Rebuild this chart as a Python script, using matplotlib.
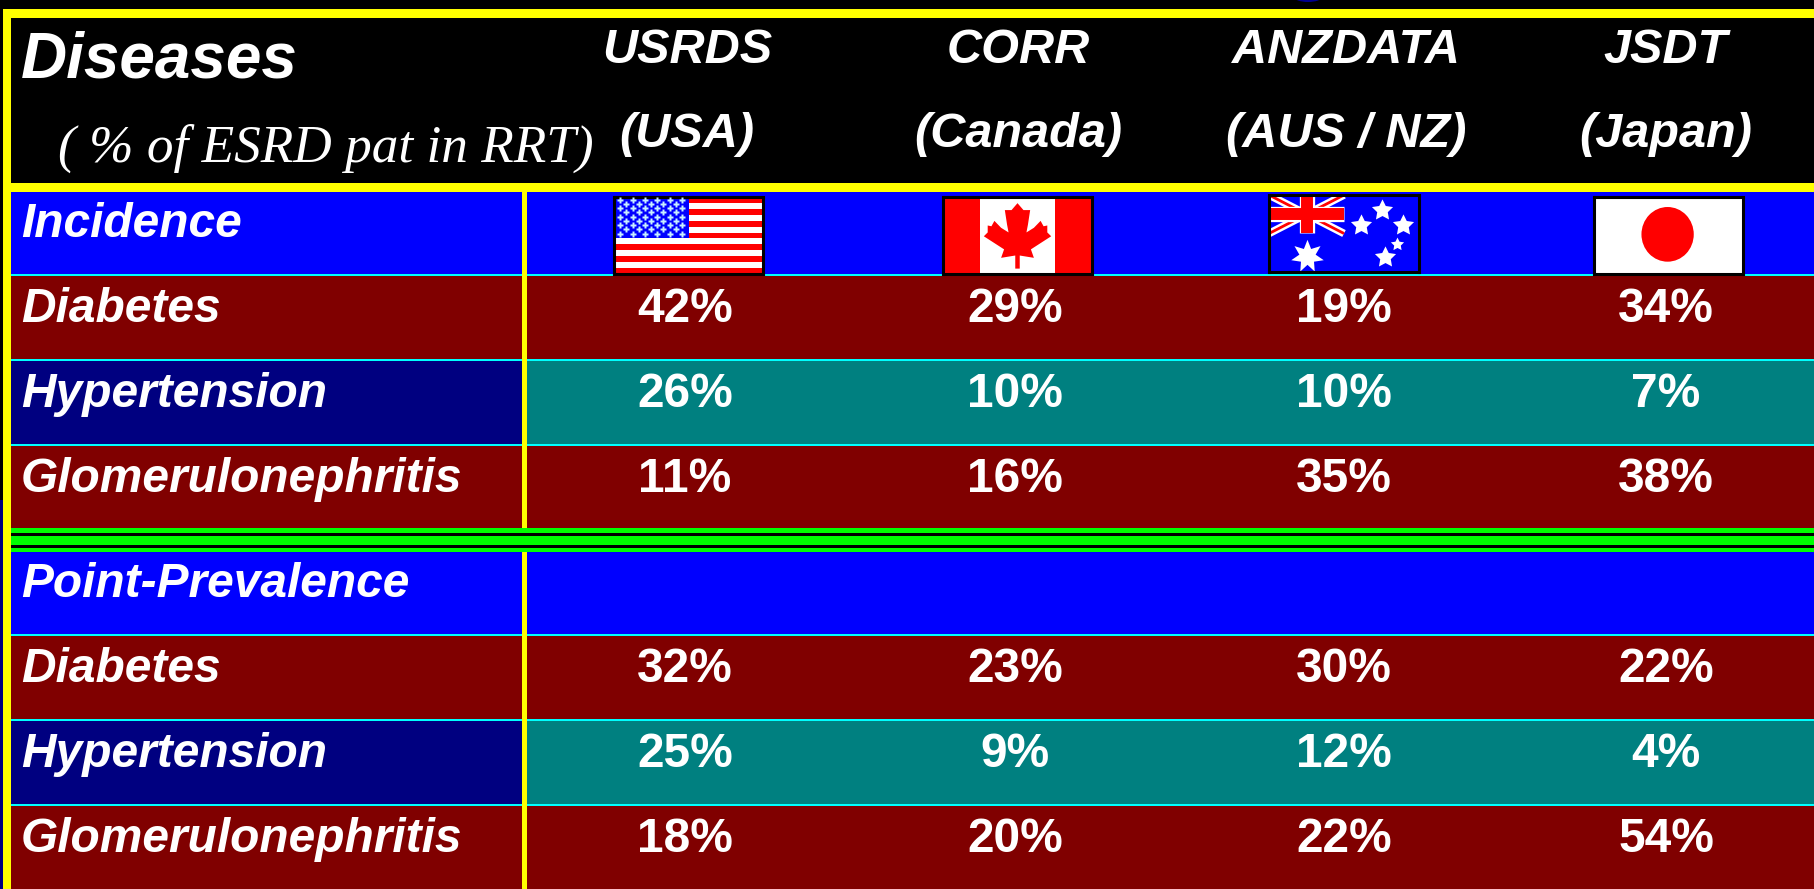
import matplotlib
matplotlib.use('Agg')
import matplotlib.pyplot as plt
from matplotlib.patches import Rectangle, Polygon, Ellipse

# Table contents
registries = ['USRDS', 'CORR', 'ANZDATA', 'JSDT']
countries = ['(USA)', '(Canada)', '(AUS / NZ)', '(Japan)']
row_labels = ['Diabetes', 'Hypertension', 'Glomerulonephritis']
incidence = [['42%', '29%', '19%', '34%'],
             ['26%', '10%', '10%', '7%'],
             ['11%', '16%', '35%', '38%']]
prevalence = [['32%', '23%', '30%', '22%'],
              ['25%', '9%', '12%', '4%'],
              ['18%', '20%', '22%', '54%']]

W, H = 1814, 889
YELLOW, CYAN, GREEN = '#FFFF00', '#00FFFF', '#00FF00'
BLUE, MAROON, NAVY, TEAL = '#0000FF', '#800000', '#000080', '#008080'
col_x = [685, 1015, 1344, 1666]
head_x = [687, 1018, 1346, 1666]
SANS = dict(family='Liberation Sans', weight='bold', style='italic', color='white')

fig = plt.figure(figsize=(W / 100, H / 100), dpi=100, facecolor='black')
ax = fig.add_axes([0, 0, 1, 1])
ax.set_xlim(0, W)
ax.set_ylim(H, 0)
ax.axis('off')


def box(x0, y0, x1, y1, color, z=1):
    ax.add_patch(Rectangle((x0, y0), x1 - x0, y1 - y0, fc=color, ec='none', lw=0, zorder=z))


def section(top, title, rows):
    # title band, then the three disease rows
    box(11, top, W, top + 82, BLUE)
    ax.text(21, top + 45, title, fontsize=34.5, **SANS, zorder=5)
    box(11, top + 82, W, top + 84, CYAN, 2)
    y = top + 84
    for i, label in enumerate(row_labels):
        left, right = (NAVY, TEAL) if i == 1 else (MAROON, MAROON)
        box(11, y, 524, y + 83, left)
        box(524, y, W, y + 83, right)
        if i < 2:
            box(11, y + 83, W, y + 85, CYAN, 2)
        ax.text(21, y + 46, label, fontsize=34.5, **SANS, zorder=5)
        for x, val in zip(col_x, rows[i]):
            ax.text(x, y + 46, val, fontsize=34.5, ha='center',
                    family='Liberation Sans', weight='bold', color='white', zorder=5)
        y += 85


# Frame and header
box(0, 500, 3, H, NAVY)
box(3, 9, 11, H, YELLOW, 3)
box(3, 9, W, 18, YELLOW, 3)
box(3, 183, W, 192, YELLOW, 3)
ax.add_patch(Ellipse((1308, -3), 28, 10, fc='#000090', ec='none'))
ax.text(21, 77, 'Diseases', fontsize=46, **SANS)
ax.text(58, 162, '( % of ESRD pat in RRT)', fontsize=38.3, family='Liberation Serif',
        style='italic', color='white')
for x, reg, cn in zip(head_x, registries, countries):
    ax.text(x, 63, reg, fontsize=35, ha='center', **SANS)
    ax.text(x, 147, cn, fontsize=35, ha='center', **SANS)

section(192, 'Incidence', incidence)
section(552, 'Point-Prevalence', prevalence)

# Green double rule between the two sections
box(11, 528, W, 552, GREEN, 3)
box(11, 533, W, 536, 'black', 4)
box(11, 545, W, 548, 'black', 4)

# Yellow column divider
box(522, 192, 527, 528, YELLOW, 3)
box(522, 552, 527, H, YELLOW, 3)


def flag_axes(x0, y0, x1, y1):
    a = fig.add_axes([x0 / W, 1 - y1 / H, (x1 - x0) / W, (y1 - y0) / H])
    a.set_xlim(0, 1)
    a.set_ylim(1, 0)
    a.set_xticks([])
    a.set_yticks([])
    for s in a.spines.values():
        s.set_color('black')
        s.set_linewidth(2.2)
    return a


# USA
a = flag_axes(614, 197, 763, 274)
for i in range(13):
    a.add_patch(Rectangle((0, i / 13), 1, 1 / 13, fc='#FF0000' if i % 2 == 0 else 'white', ec='none'))
a.add_patch(Rectangle((0, 0), 0.5, 7 / 13, fc=BLUE, ec='none', zorder=2))
for r in range(9):
    for c in range(6 if r % 2 == 0 else 5):
        a.plot((c + (0.5 if r % 2 == 0 else 1.0)) * 0.083, (r + 0.6) * 0.0555, marker='P', ms=4.6,
               mfc='#C8F0FF', mec='none', zorder=3)

# Canada
a = flag_axes(943, 197, 1092, 274)
a.add_patch(Rectangle((0, 0), 1, 1, fc='white', ec='none'))
a.add_patch(Rectangle((0, 0), 0.25, 1, fc='#FF0000', ec='none'))
a.add_patch(Rectangle((0.75, 0), 0.25, 1, fc='#FF0000', ec='none'))
half_leaf = [(.5, .08), (.46, .17), (.415, .17), (.43, .36), (.44, .46), (.39, .40), (.345, .31),
             (.325, .38), (.30, .37), (.30, .46), (.274, .51), (.33, .58), (.41, .68), (.39, .79),
             (.485, .76), (.485, .93)]
leaf = half_leaf + [(1 - x, y) for x, y in reversed(half_leaf[1:])]
a.add_patch(Polygon(leaf, fc='#FF0000', ec='none'))

# Australia
a = flag_axes(1269, 195, 1419, 272)
a.set_facecolor(BLUE)
for (x0, y0, x1, y1), lw, col in [((0, 0, .5, .5), 5.5, 'white'), ((0, .5, .5, 0), 5.5, 'white'),
                                  ((0, 0, .5, .5), 2, '#FF0000'), ((0, .5, .5, 0), 2, '#FF0000'),
                                  ((.25, 0, .25, .5), 11, 'white'), ((0, .25, .5, .25), 11, 'white'),
                                  ((.25, 0, .25, .5), 8.6, '#FF0000'), ((0, .25, .5, .25), 8.6, '#FF0000')]:
    a.plot([x0, x1], [y0, y1], color=col, lw=lw, solid_capstyle='butt')
a.set_xlim(0, 1)
a.set_ylim(1, 0)
stars = [(.75, .2, 16), (.61, .39, 16), (.89, .39, 16), (.85, .63, 10), (.77, .81, 16)]
for sx, sy, size in stars:
    a.plot(sx, sy, marker=(5, 1, 0), ms=size, mfc='white', mec='none')
a.plot(.25, .79, marker=(7, 1, 0), ms=24, mfc='white', mec='none')

# Japan
a = flag_axes(1594, 197, 1743, 274)
a.add_patch(Ellipse((.494, .485), .351, .71, fc='#FF0000', ec='none'))

fig.savefig('out.png', dpi=100, facecolor='black')
